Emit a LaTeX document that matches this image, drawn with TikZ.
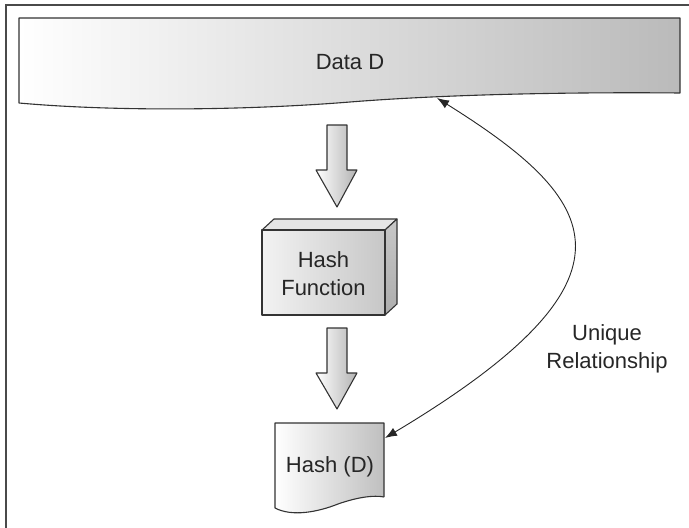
\documentclass[tikz,border=0pt]{standalone}
\usepackage{fontspec}
\setmainfont{Liberation Sans}
\usepackage{xcolor}
\usetikzlibrary{arrows.meta}
\definecolor{edgegray}{HTML}{333333}
\definecolor{framegray}{HTML}{4A4A4A}

\begin{document}
\begin{tikzpicture}[x=1pt, y=-1pt,
    outln/.style={draw=edgegray, line width=1.1pt, line join=round},
    txt/.style={text=black!85, font=\fontsize{22}{28}\selectfont, align=center},
    relarrow/.style={{Latex[length=12pt, width=9pt]}-{Latex[length=12pt, width=9pt]}, line width=0.9pt, draw=black!85}]
		\useasboundingbox (0,0) rectangle (689,528);
		\draw[framegray, line width=1.6pt] (689,5) -- (6,5) -- (6,528);
		% data banner
		\draw[outln, left color=white, right color=black!27] (680,18) -- (19,18) -- (19,103)
			.. controls (120,112) and (250,110) .. (350,102)
			.. controls (450,94) and (580,92) .. (680,93) -- cycle;
		\node[txt] (data) at (350,62) {Data D};
		\coordinate (data-bot) at (437,98);
		% first block arrow
		\draw[outln, left color=white, right color=black!30] (327,125) -- (347,125) -- (347,170) -- (357,170) -- (337,207) -- (316,170) -- (327,170) -- cycle;
		% hash function box
		\draw[outln, fill=black!10] (262,230) -- (274,219) -- (397,219) -- (385,230) -- cycle;
		\draw[outln, top color=black!22, bottom color=black!32] (385,230) -- (397,219) -- (397,304) -- (385,315) -- cycle;
		\draw[outln, left color=black!5, right color=black!22] (262,230) rectangle (385,315);
		\node[txt] (hashfn) at (323.5,274) {Hash\\Function};
		% second block arrow
		\draw[outln, left color=white, right color=black!30] (327,328) -- (347,328) -- (347,373) -- (357,373) -- (337,409) -- (316,373) -- (327,373) -- cycle;
		% hash document
		\draw[outln, left color=white, right color=black!25] (384,497) -- (384,423) -- (275,423) -- (275,508)
			.. controls (292,517) and (318,512) .. (338,504)
			.. controls (358,497) and (374,495) .. (384,497);
		\node[txt] (hashd) at (330,467) {Hash (D)};
		\coordinate (hashd-east) at (385,438);
		% relationship
		\draw[relarrow] (data-bot) .. controls (600,200) and (654,277) .. (hashd-east);
		\node[txt] (rel) at (607,349) {Unique\\Relationship};
\end{tikzpicture}
\end{document}
